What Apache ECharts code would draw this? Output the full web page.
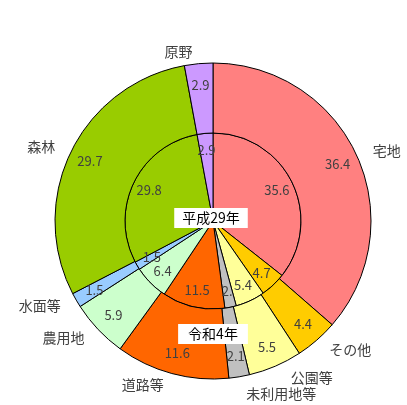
<!DOCTYPE html>
<html>
<head>
<meta charset="utf-8">
<script src="https://cdn.jsdelivr.net/npm/echarts@6/dist/echarts.min.js"></script>
<style>
  html, body { margin: 0; padding: 0; background: #fff; }
  #main { width: 407px; height: 405px; }
</style>
</head>
<body>
<div id="main"></div>
<script>
// 土地利用の構成比（%） 内側：平成29年 外側：令和4年
const categories = ['宅地', 'その他', '公園等', '未利用地等', '道路等', '農用地', '水面等', '森林', '原野']
const h29Values = [35.6, 4.7, 5.4, 2.1, 11.5, 6.4, 1.5, 29.8, 2.9]
const r4Values = [36.4, 4.4, 5.5, 2.1, 11.6, 5.9, 1.5, 29.7, 2.9]
const h29Labels = ['35.6', '4.7', '5.4', '2.', '11.5', '6.4', '1.5', '29.8', '2.9']

const palette = ['#FF8080', '#FFCC00', '#FFFF99', '#C0C0C0', '#FF6600', '#CCFFCC', '#99CCFF', '#99CC00', '#CC99FF']
const center = [213, 221]
const font = '"Noto Sans CJK JP", "Noto Sans", sans-serif'

const toData = (vals) => vals.map((v, i) => ({ name: categories[i], value: v }))

// 数値ラベル用の透明なリング
const labelRing = (vals, radius, formatter) => ({
  type: 'pie',
  center: center,
  radius: radius,
  startAngle: 90,
  silent: true,
  z: 5,
  itemStyle: { color: 'transparent', borderWidth: 0 },
  emphasis: { disabled: true },
  labelLine: { show: false },
  label: {
    show: true,
    position: 'inside',
    color: '#404040',
    fontSize: 13,
    fontFamily: font,
    formatter: formatter
  },
  data: toData(vals)
})

const chart = echarts.init(document.getElementById('main'))
chart.setOption({
  color: palette,
  animation: false,
  series: [
    {
      type: 'pie',
      center: center,
      radius: [0, 88],
      startAngle: 90,
      silent: true,
      itemStyle: { borderColor: '#000', borderWidth: 1 },
      label: { show: false },
      labelLine: { show: false },
      data: toData(h29Values)
    },
    {
      type: 'pie',
      center: center,
      radius: [88, 158],
      startAngle: 90,
      silent: true,
      itemStyle: { borderColor: '#000', borderWidth: 1 },
      label: { show: false },
      labelLine: { show: false },
      data: toData(r4Values)
    },
    labelRing(h29Values, [36, 100], (p) => h29Labels[p.dataIndex]),
    labelRing(r4Values, [108, 160], (p) => p.value.toFixed(1)),
    // 外側の分類名
    {
      type: 'pie',
      center: center,
      radius: [88, 158],
      startAngle: 90,
      silent: true,
      z: 4,
      avoidLabelOverlap: true,
      itemStyle: { color: 'transparent', borderWidth: 0 },
      emphasis: { disabled: true },
      labelLine: { show: false, length: 12, length2: 0 },
      label: {
        show: true,
        position: 'outside',
        overflow: 'none',
        color: '#404040',
        fontSize: 14,
        fontFamily: font,
        formatter: '{b}'
      },
      data: toData(r4Values)
    }
  ],
  graphic: [
    {
      type: 'text',
      x: 211,
      y: 218,
      z: 100,
      style: {
        text: '平成29年',
        fill: '#000',
        font: '14px ' + font,
        align: 'center',
        verticalAlign: 'middle',
        backgroundColor: '#fff',
        padding: [3, 8]
      }
    },
    {
      type: 'text',
      x: 213,
      y: 334,
      z: 100,
      style: {
        text: '令和4年',
        fill: '#000',
        font: '14px ' + font,
        align: 'center',
        verticalAlign: 'middle',
        backgroundColor: '#fff',
        padding: [3, 10]
      }
    }
  ]
})
</script>
</body>
</html>
